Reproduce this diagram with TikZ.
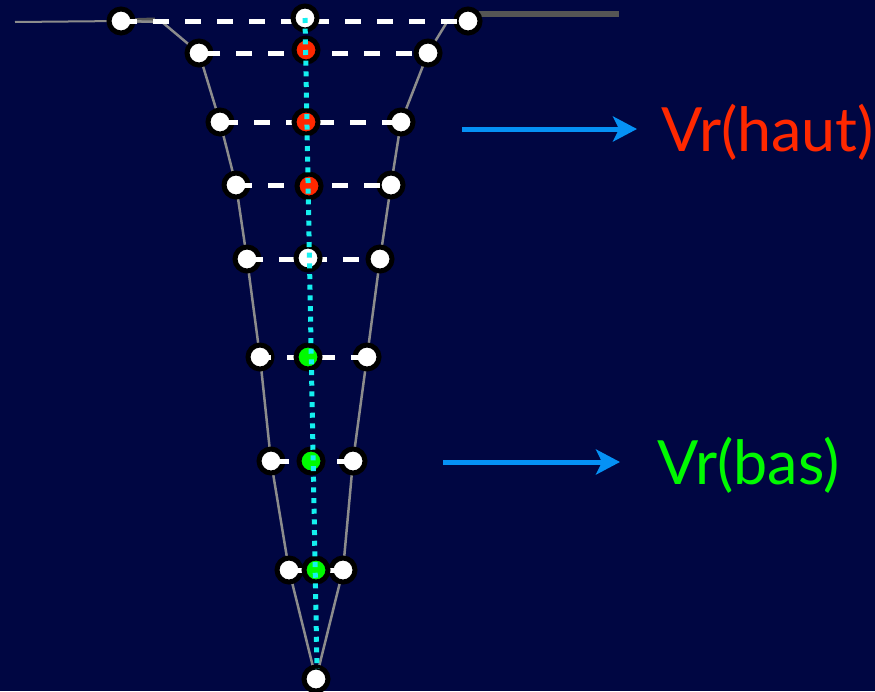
\documentclass[tikz,border=0pt]{standalone}
\usepackage{fontspec}
\setmainfont{Lato}
\usetikzlibrary{arrows.meta}
\definecolor{navy}{RGB}{0,6,66}
\definecolor{profgrey}{RGB}{140,140,140}
\definecolor{darkgrey}{RGB}{85,85,85}
\definecolor{hautred}{RGB}{255,40,0}
\definecolor{basgreen}{RGB}{0,250,0}
\definecolor{arrowblue}{RGB}{5,145,245}
\definecolor{dotcyan}{RGB}{20,240,240}
\tikzset{
  dot/.style={circle, draw=black, line width=5pt, fill=white, minimum size=24pt, inner sep=0pt},
  reddot/.style={dot, fill=hautred},
  greendot/.style={dot, fill=basgreen},
  profile/.style={draw=profgrey, line width=2.5pt, line join=round},
  level/.style={draw=white, line width=5pt, dash pattern=on 16pt off 16pt},
  axis/.style={draw=dotcyan, line width=5pt, dash pattern=on 5pt off 5.67pt},
  pointer/.style={draw=arrowblue, line width=5pt, -{Stealth[length=24pt, width=25pt, inset=6pt]}},
  label/.style={anchor=base west, inner sep=0pt, font=\fontsize{61}{61}\selectfont}
}
\begin{document}
\begin{tikzpicture}[x=1pt,y=-1pt]
\useasboundingbox[fill=navy] (0,0) rectangle (875,691);
% positions
\coordinate (pL0) at (121,21);  \coordinate (pR0) at (468,21);
\coordinate (pL1) at (199,53);  \coordinate (pR1) at (428,53);
\coordinate (pL2) at (220,122); \coordinate (pR2) at (401,122);
\coordinate (pL3) at (236,185); \coordinate (pR3) at (391,185);
\coordinate (pL4) at (247,259); \coordinate (pR4) at (380,259);
\coordinate (pL5) at (260,357); \coordinate (pR5) at (367,357);
\coordinate (pL6) at (271,461); \coordinate (pR6) at (353,461);
\coordinate (pL7) at (289,570); \coordinate (pR7) at (343,570);
\coordinate (pB) at (316,679);
\coordinate (surfW) at (15,22);
\coordinate (surfE) at (619,14);
\coordinate (surfEstart) at (462,14);
\coordinate (kneeL) at (162,22);
\coordinate (kneeR) at (447,22);
\coordinate (stubL) at (155,20);
\coordinate (cyanEnd) at (317,669);
% surface lines
\draw[draw=profgrey, line width=2pt] (surfW) -- (pL0);
\draw[draw=darkgrey, line width=5pt] (pL0) -- (stubL);
\draw[draw=darkgrey, line width=6pt] (surfEstart) -- (surfE);
% profiles
\draw[profile] (pL0) -- (kneeL) -- (pL1) -- (pL2) -- (pL3) -- (pL4) -- (pL5) -- (pL6) -- (pL7) -- (pB);
\draw[profile] (pR0) -- (kneeR) -- (pR1) -- (pR2) -- (pR3) -- (pR4) -- (pR5) -- (pR6) -- (pR7) -- (pB);
% side points
\foreach \i in {0,...,7} {
  \node[dot] (L\i) at (pL\i) {};
  \node[dot] (R\i) at (pR\i) {};
}
\node[dot] (B) at (pB) {};
% levels
\draw[level] (L0.center) -- (R0.center);
\draw[level, dash phase=16pt] (R1.center) -- (L1.center);
\draw[level, dash phase=-2pt] (L2.center) -- (R2.center);
\draw[level] (L3.center) -- (R3.center);
\draw[level] (L4.center) -- (R4.center);
\draw[level] (R5.center) -- (L5.center);
\draw[level] (R6.center) -- (L6.center);
\draw[level] (R7.center) -- (L7.center);
% centre points
\node[dot] (C0) at (305,18) {};
\node[reddot] (C1) at (306,50) {};
\node[reddot] (C2) at (306,122) {};
\node[reddot] (C3) at (309,186) {};
\node[dot] (C4) at (308,258) {};
\node[greendot] (C5) at (308,357) {};
\node[greendot] (C6) at (311,461) {};
\node[greendot] (C7) at (316,570) {};
% axis
\draw[axis] (C0.center) -- (cyanEnd);
% labels
\node[label, text=hautred] (haut) at (661,151) {Vr(haut)};
\node[label, text=basgreen] (bas) at (657,484) {Vr(bas)};
\coordinate (a1s) at (462,129);
\coordinate (a1e) at (637,129);
\coordinate (a2s) at (443,462);
\coordinate (a2e) at (620,462);
\draw[pointer] (a1s) -- (a1e);
\draw[pointer] (a2s) -- (a2e);
\end{tikzpicture}
\end{document}
